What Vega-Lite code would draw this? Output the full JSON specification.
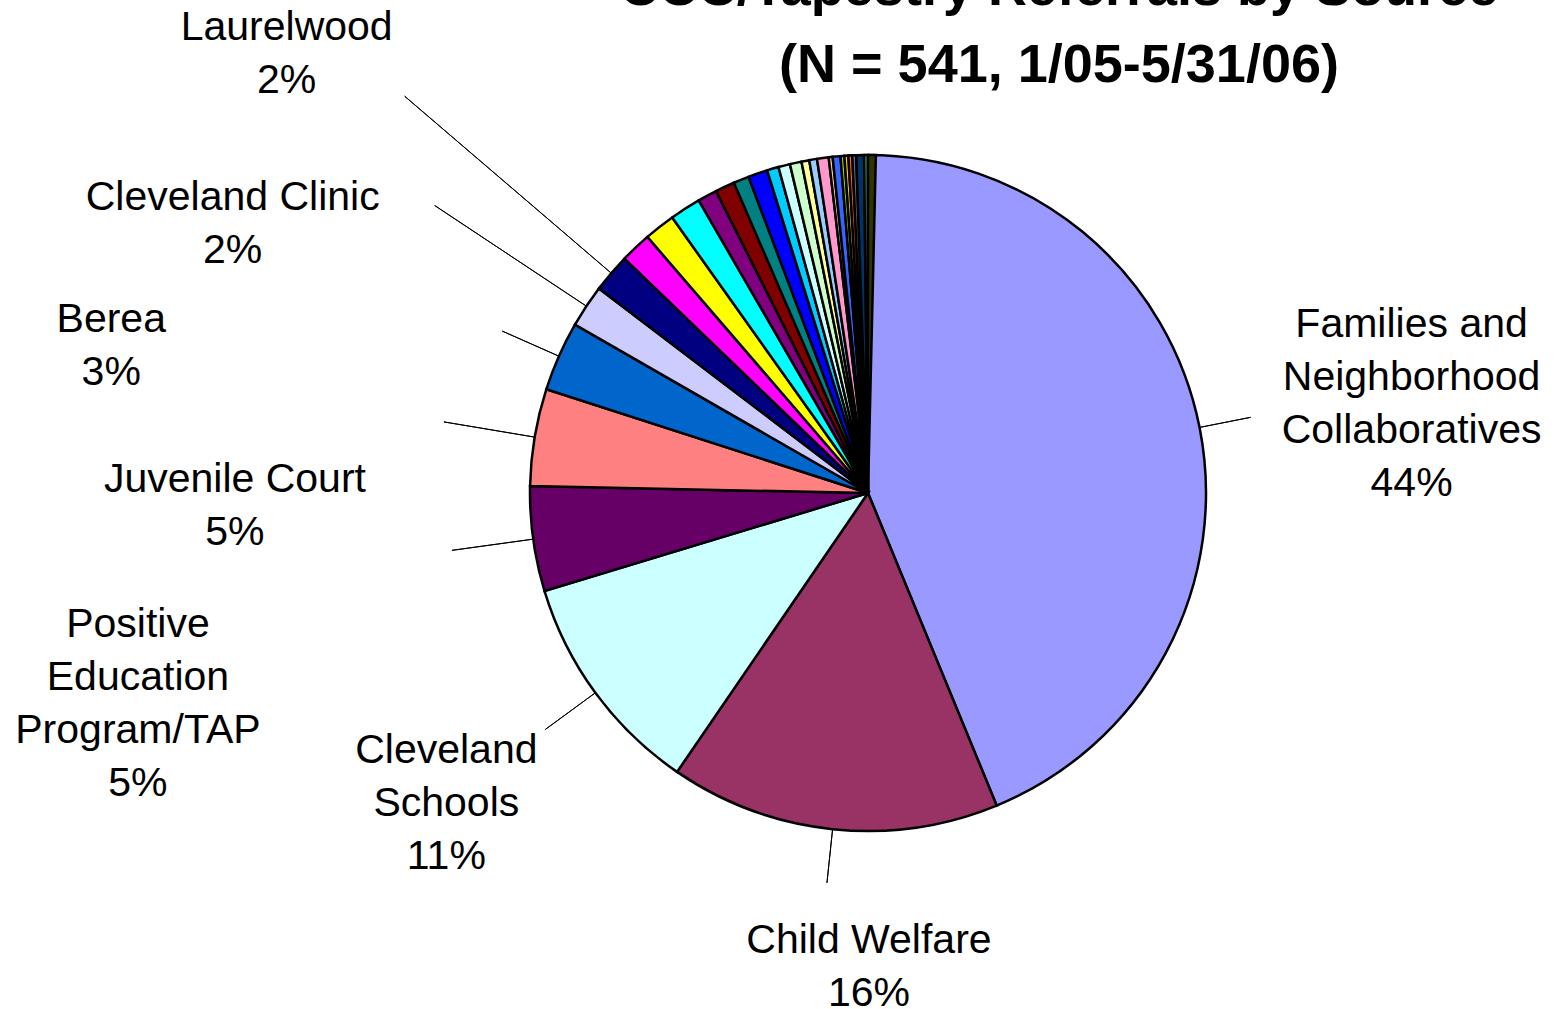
{
  "$schema": "https://vega.github.io/schema/vega-lite/v6.json",
  "width": 1392,
  "height": 986,
  "autosize": {"type": "none"},
  "padding": {"left": 172, "right": 0, "top": 0, "bottom": 23},
  "background": "#ffffff",
  "title": {
    "text": ["CCC/Tapestry Referrals by Source", "(N = 541, 1/05-5/31/06)"],
    "font": "Liberation Sans",
    "fontSize": 54,
    "fontWeight": "bold",
    "color": "#000000",
    "anchor": "middle",
    "dx": 191,
    "offset": 0,
    "baseline": "alphabetic",
    "lineHeight": 77,
    "dy": 136
  },
  "data": {
    "values": [
      {"order": 1, "name": "Families and Neighborhood Collaboratives", "label": "Families and\nNeighborhood\nCollaboratives", "count": 236},
      {"order": 2, "name": "Child Welfare", "label": "Child Welfare", "count": 85},
      {"order": 3, "name": "Cleveland Schools", "label": "Cleveland\nSchools", "count": 58},
      {"order": 4, "name": "Positive Education Program/TAP", "label": "Positive\nEducation\nProgram/TAP", "count": 27},
      {"order": 5, "name": "Juvenile Court", "label": "Juvenile Court", "count": 25},
      {"order": 6, "name": "Berea", "label": "Berea", "count": 18},
      {"order": 7, "name": "Cleveland Clinic", "label": "Cleveland Clinic", "count": 11},
      {"order": 8, "name": "Laurelwood", "label": "Laurelwood", "count": 10},
      {"order": 9, "name": "Other 1", "label": "", "count": 8},
      {"order": 10, "name": "Other 2", "label": "", "count": 8},
      {"order": 11, "name": "Other 3", "label": "", "count": 8},
      {"order": 12, "name": "Other 4", "label": "", "count": 5},
      {"order": 13, "name": "Other 5", "label": "", "count": 5},
      {"order": 14, "name": "Other 6", "label": "", "count": 4},
      {"order": 15, "name": "Other 7", "label": "", "count": 5},
      {"order": 16, "name": "Other 8", "label": "", "count": 3},
      {"order": 17, "name": "Other 9", "label": "", "count": 3},
      {"order": 18, "name": "Other 10", "label": "", "count": 3},
      {"order": 19, "name": "Other 11", "label": "", "count": 2},
      {"order": 20, "name": "Other 12", "label": "", "count": 2},
      {"order": 21, "name": "Other 13", "label": "", "count": 3},
      {"order": 22, "name": "Other 14", "label": "", "count": 1},
      {"order": 23, "name": "Other 15", "label": "", "count": 2},
      {"order": 24, "name": "Other 16", "label": "", "count": 1},
      {"order": 25, "name": "Other 17", "label": "", "count": 1},
      {"order": 26, "name": "Other 18", "label": "", "count": 1},
      {"order": 27, "name": "Other 19", "label": "", "count": 1},
      {"order": 28, "name": "Other 20", "label": "", "count": 2},
      {"order": 29, "name": "Other 21", "label": "", "count": 1},
      {"order": 30, "name": "Other 22", "label": "", "count": 2}
    ]
  },
  "transform": [
    {"stack": "count", "groupby": [], "sort": [{"field": "order", "order": "ascending"}], "as": ["start", "end"]},
    {"calculate": "(datum.start + datum.end) / 2", "as": "mid"},
    {"joinaggregate": [{"op": "sum", "field": "count", "as": "total"}]},
    {"calculate": "datum.label + '\\n' + format(datum.count / datum.total, '.0%')", "as": "txt"}
  ],
  "config": {
    "view": {"stroke": null},
    "text": {"font": "Liberation Sans", "fontSize": 41, "lineHeight": 53, "lineBreak": "\n", "align": "center", "baseline": "alphabetic", "color": "#000000"}
  },
  "layer": [
    {
      "mark": {"type": "arc", "outerRadius": 338, "stroke": "#000000", "strokeWidth": 2.5},
      "encoding": {
        "theta": {"field": "start", "type": "quantitative", "scale": {"nice": false, "zero": true}},
        "theta2": {"field": "end"},
        "color": {
          "field": "name", "type": "nominal", "legend": null,
          "scale": {
            "domain": ["Families and Neighborhood Collaboratives", "Child Welfare", "Cleveland Schools", "Positive Education Program/TAP", "Juvenile Court", "Berea", "Cleveland Clinic", "Laurelwood", "Other 1", "Other 2", "Other 3", "Other 4", "Other 5", "Other 6", "Other 7", "Other 8", "Other 9", "Other 10", "Other 11", "Other 12", "Other 13", "Other 14", "Other 15", "Other 16", "Other 17", "Other 18", "Other 19", "Other 20", "Other 21", "Other 22"],
            "range": ["#9999FF", "#993366", "#CCFFFF", "#660066", "#FF8080", "#0066CC", "#CCCCFF", "#000080", "#FF00FF", "#FFFF00", "#00FFFF", "#800080", "#800000", "#008080", "#0000FF", "#00CCFF", "#CCFFFF", "#CCFFCC", "#FFFF99", "#99CCFF", "#FF99CC", "#FFCC99", "#3366FF", "#99CC00", "#FFCC00", "#FF6600", "#666699", "#003366", "#339966", "#333300"]
          }
        }
      }
    },
    {"transform": [{"filter": "datum.order === 1"}], "mark": {"type": "arc", "innerRadius": 338, "outerRadius": 390, "stroke": "#000000", "strokeWidth": 1, "fill": "#000000"}, "encoding": {"theta": {"field": "mid", "type": "quantitative"}, "theta2": {"field": "mid"}}},
    {"transform": [{"filter": "datum.order === 2"}], "mark": {"type": "arc", "innerRadius": 338, "outerRadius": 392, "stroke": "#000000", "strokeWidth": 1, "fill": "#000000"}, "encoding": {"theta": {"field": "mid", "type": "quantitative"}, "theta2": {"field": "mid"}}},
    {"transform": [{"filter": "datum.order === 3"}], "mark": {"type": "arc", "innerRadius": 338, "outerRadius": 400, "stroke": "#000000", "strokeWidth": 1, "fill": "#000000"}, "encoding": {"theta": {"field": "mid", "type": "quantitative"}, "theta2": {"field": "mid"}}},
    {"transform": [{"filter": "datum.order === 4"}], "mark": {"type": "arc", "innerRadius": 338, "outerRadius": 420, "stroke": "#000000", "strokeWidth": 1, "fill": "#000000"}, "encoding": {"theta": {"field": "mid", "type": "quantitative"}, "theta2": {"field": "mid"}}},
    {"transform": [{"filter": "datum.order === 5"}], "mark": {"type": "arc", "innerRadius": 338, "outerRadius": 430, "stroke": "#000000", "strokeWidth": 1, "fill": "#000000"}, "encoding": {"theta": {"field": "mid", "type": "quantitative"}, "theta2": {"field": "mid"}}},
    {"transform": [{"filter": "datum.order === 6"}], "mark": {"type": "arc", "innerRadius": 338, "outerRadius": 400, "stroke": "#000000", "strokeWidth": 1, "fill": "#000000"}, "encoding": {"theta": {"field": "mid", "type": "quantitative"}, "theta2": {"field": "mid"}}},
    {"transform": [{"filter": "datum.order === 7"}], "mark": {"type": "arc", "innerRadius": 338, "outerRadius": 520, "stroke": "#000000", "strokeWidth": 1, "fill": "#000000"}, "encoding": {"theta": {"field": "mid", "type": "quantitative"}, "theta2": {"field": "mid"}}},
    {"transform": [{"filter": "datum.order === 8"}], "mark": {"type": "arc", "innerRadius": 338, "outerRadius": 610, "stroke": "#000000", "strokeWidth": 1, "fill": "#000000"}, "encoding": {"theta": {"field": "mid", "type": "quantitative"}, "theta2": {"field": "mid"}}},
    {"transform": [{"filter": "datum.order === 1"}], "mark": {"type": "text", "radius": 390, "dx": 161, "dy": -80}, "encoding": {"theta": {"field": "mid", "type": "quantitative", "stack": null}, "text": {"field": "txt"}}},
    {"transform": [{"filter": "datum.order === 2"}], "mark": {"type": "text", "radius": 392, "dx": 42, "dy": 70}, "encoding": {"theta": {"field": "mid", "type": "quantitative", "stack": null}, "text": {"field": "txt"}}},
    {"transform": [{"filter": "datum.order === 3"}], "mark": {"type": "text", "radius": 400, "dx": -99, "dy": 34}, "encoding": {"theta": {"field": "mid", "type": "quantitative", "stack": null}, "text": {"field": "txt"}}},
    {"transform": [{"filter": "datum.order === 4"}], "mark": {"type": "text", "radius": 420, "dx": -314, "dy": 87}, "encoding": {"theta": {"field": "mid", "type": "quantitative", "stack": null}, "text": {"field": "txt"}}},
    {"transform": [{"filter": "datum.order === 5"}], "mark": {"type": "text", "radius": 430, "dx": -209, "dy": 70}, "encoding": {"theta": {"field": "mid", "type": "quantitative", "stack": null}, "text": {"field": "txt"}}},
    {"transform": [{"filter": "datum.order === 6"}], "mark": {"type": "text", "radius": 400, "dx": -391, "dy": 1}, "encoding": {"theta": {"field": "mid", "type": "quantitative", "stack": null}, "text": {"field": "txt"}}},
    {"transform": [{"filter": "datum.order === 7"}], "mark": {"type": "text", "radius": 520, "dx": -202, "dy": 4}, "encoding": {"theta": {"field": "mid", "type": "quantitative", "stack": null}, "text": {"field": "txt"}}},
    {"transform": [{"filter": "datum.order === 8"}], "mark": {"type": "text", "radius": 610, "dx": -118, "dy": -56}, "encoding": {"theta": {"field": "mid", "type": "quantitative", "stack": null}, "text": {"field": "txt"}}}
  ]
}
